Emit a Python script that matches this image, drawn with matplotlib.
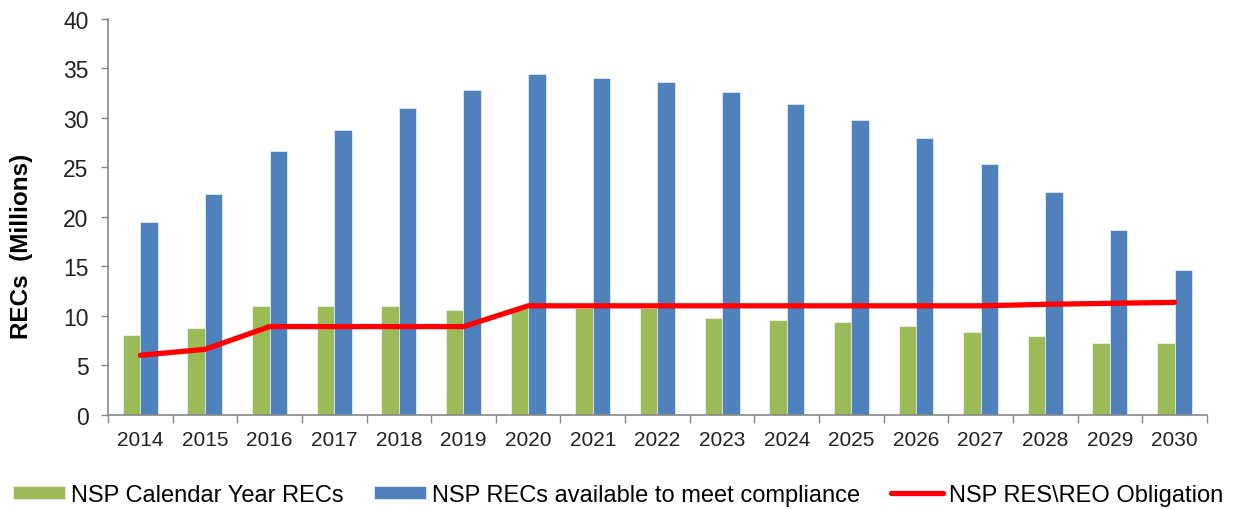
import matplotlib
matplotlib.use("Agg")
import matplotlib.pyplot as plt
import numpy as np
from matplotlib.ticker import FixedLocator

years = ["2014", "2015", "2016", "2017", "2018", "2019", "2020", "2021", "2022",
         "2023", "2024", "2025", "2026", "2027", "2028", "2029", "2030"]
calendar_recs = [8.0, 8.8, 11.0, 11.0, 11.0, 10.6, 10.8, 10.8, 10.8,
                 9.8, 9.6, 9.4, 9.0, 8.4, 7.9, 7.2, 7.2]
available_recs = [19.5, 22.3, 26.6, 28.8, 31.0, 32.8, 34.4, 34.0, 33.6,
                  32.6, 31.4, 29.8, 28.0, 25.3, 22.5, 18.7, 14.6]
obligation = [6.0, 6.6, 8.9, 8.9, 8.9, 8.9, 11.0, 11.0, 11.0,
              11.0, 11.0, 11.0, 11.0, 11.0, 11.15, 11.25, 11.35]

plt.rcParams['font.family'] = ['Liberation Sans', 'DejaVu Sans']

fig = plt.figure(figsize=(12.34, 5.10), dpi=100)
ax = fig.add_axes([0.0875, 0.185, 0.8905, 0.776])

x = np.arange(len(years))
w = 0.27
b1 = ax.bar(x - w / 2, calendar_recs, width=w, color="#9BBB59", edgecolor="white",
            linewidth=0.4, label="NSP Calendar Year RECs", zorder=2)
b2 = ax.bar(x + w / 2, available_recs, width=w, color="#4F81BD", edgecolor="white",
            linewidth=0.4, label="NSP RECs available to meet compliance", zorder=2)
l1, = ax.plot(x, obligation, color="#FF0000", linewidth=3.8, solid_capstyle="round",
              solid_joinstyle="round", label="NSP RES\\REO Obligation", zorder=3)

ax.set_xlim(-0.5, len(years) - 0.5)
ax.set_ylim(0, 40)
ax.set_yticks(np.arange(0, 41, 5))
ax.set_xticks(x)
ax.set_xticklabels(years)
ax.xaxis.set_minor_locator(FixedLocator(np.arange(-0.5, len(years), 1.0)))
ax.tick_params(axis="x", which="major", length=0, labelsize=15, pad=11, labelcolor="#222222")
ax.tick_params(axis="x", which="minor", length=6, width=1, color="#888888")
ax.tick_params(axis="y", which="major", length=5, width=1, color="#888888",
               labelsize=16.5, labelcolor="#222222", pad=9)

for side in ("top", "right"):
    ax.spines[side].set_visible(False)
for side in ("left", "bottom"):
    ax.spines[side].set_color("#888888")
    ax.spines[side].set_linewidth(1.2)

ax.set_ylabel("RECs  (Millions)", fontsize=17.5, fontweight="bold")
ax.yaxis.set_label_coords(-0.068, 0.428)

fig.legend([b1, b2, l1],
           ["NSP Calendar Year RECs", "NSP RECs available to meet compliance",
            "NSP RES\\REO Obligation"],
           loc="center", bbox_to_anchor=(0.501, 0.028),
           ncol=3, frameon=False, fontsize=17, handlelength=2.2,
           handleheight=0.45, handletextpad=0.25, columnspacing=1.3,
           borderpad=0.0, borderaxespad=0.0)

fig.savefig("out.png", dpi=100)
